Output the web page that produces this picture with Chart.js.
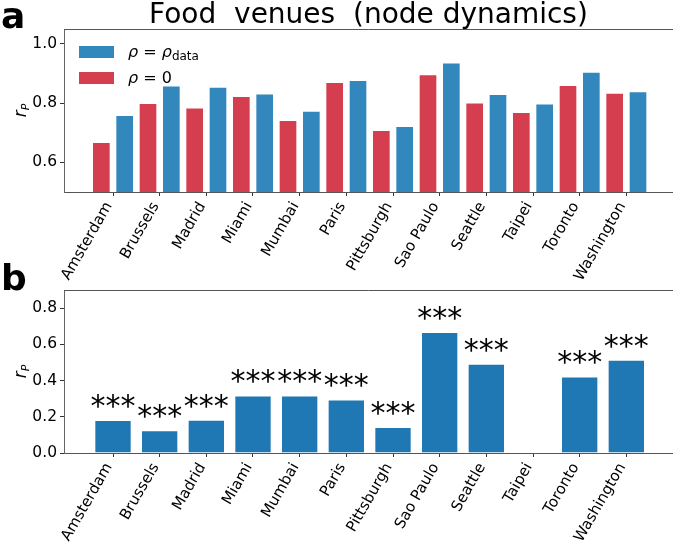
<!DOCTYPE html>
<html>
<head>
<meta charset="utf-8">
<script src="https://cdn.jsdelivr.net/npm/chart.js@4.4.1/dist/chart.umd.min.js"></script>
<style>
  html, body { margin: 0; padding: 0; background: #fff; }
  #wrap { position: relative; width: 673px; height: 544px; overflow: hidden; background: #fff; }
  canvas { position: absolute; left: 0; }
  #chartA { top: 0; }
  #chartB { top: 250px; }
</style>
</head>
<body>
<div id="wrap">
  <canvas id="chartA" width="673" height="300"></canvas>
  <canvas id="chartB" width="673" height="294"></canvas>
</div>
<script>
// Cities on the x axis
const categories = ['Amsterdam', 'Brussels', 'Madrid', 'Miami', 'Mumbai', 'Paris',
  'Pittsburgh', 'Sao Paulo', 'Seattle', 'Taipei', 'Toronto', 'Washington'];

// Panel a: Pearson correlation with the measured rho and with rho = 0
const rhoDataValues = [0.760, 0.859, 0.855, 0.832, 0.774, 0.878, 0.723, 0.937, 0.831, 0.799, 0.906, 0.840];
const rhoZeroValues = [0.669, 0.800, 0.785, 0.824, 0.743, 0.871, 0.709, 0.897, 0.802, 0.770, 0.861, 0.835];

// Panel b: correlation of the improvement, with significance marks
const improvementValues = [0.182, 0.125, 0.184, 0.318, 0.318, 0.296, 0.143, 0.668, 0.493, null, 0.423, 0.515];
const significance = ['***', '***', '***', '***', '***', '***', '***', '***', '***', '', '***', '***'];

// Tick values
const ticksA = [0.6, 0.8, 1.0];
const ticksB = [0.0, 0.2, 0.4, 0.6, 0.8];

const FAMILY = "'DejaVu Sans', sans-serif";
Chart.defaults.font.family = FAMILY;
Chart.defaults.color = '#000';

function drawRuns(ctx, x, y, runs, align) {
  let total = 0;
  runs.forEach(r => { ctx.font = r.font; r.w = ctx.measureText(r.t).width; total += r.w; });
  let cx = align === 'center' ? x - total / 2 : x;
  ctx.textAlign = 'left';
  runs.forEach(r => { ctx.font = r.font; ctx.fillText(r.t, cx, y + (r.dy || 0)); cx += r.w; });
}

function makeXScale(height) {
  return {
    type: 'linear',
    offset: false,
    min: -1.05,
    max: 12,
    afterBuildTicks: s => { s.ticks = categories.map((_, i) => ({ value: i })); },
    afterFit: s => { s.height = height; },
    ticks: {
      autoSkip: false,
      minRotation: 60,
      maxRotation: 60,
      padding: 3,
      labelOffset: -4,
      color: '#000',
      font: { size: 15 },
      callback: v => categories[v]
    },
    grid: { drawOnChartArea: false, offset: false, color: '#333', tickLength: 4 },
    border: { color: '#555', width: 1 }
  };
}

function makeYScale(min, max, ticks) {
  return {
    type: 'linear',
    min: min,
    max: max,
    afterBuildTicks: s => { s.ticks = ticks.map(v => ({ value: v })); },
    afterFit: s => { s.width = 64; },
    ticks: {
      padding: 3,
      color: '#000',
      font: { size: 15.5 },
      callback: v => v.toFixed(1)
    },
    grid: { drawOnChartArea: false, color: '#333', tickLength: 4 },
    border: { color: '#666', width: 1 }
  };
}

// Top spine, panel letter and rotated r_P axis label
function frameDecor(letter, letterBaseline) {
  return {
    id: 'frameDecor' + letter,
    afterDraw(chart) {
      const { ctx, chartArea } = chart;
      ctx.save();
      ctx.strokeStyle = '#555';
      ctx.lineWidth = 1;
      ctx.beginPath();
      ctx.moveTo(chartArea.left, chartArea.top + 0.5);
      ctx.lineTo(chartArea.right, chartArea.top + 0.5);
      ctx.stroke();

      ctx.fillStyle = '#000';
      ctx.textBaseline = 'alphabetic';
      ctx.font = 'bold 36px ' + FAMILY;
      ctx.textAlign = 'left';
      ctx.fillText(letter, 1, letterBaseline);

      const cy = (chartArea.top + chartArea.bottom) / 2;
      ctx.translate(26, cy);
      ctx.rotate(-Math.PI / 2);
      drawRuns(ctx, 0, 0, [
        { t: 'r', font: 'italic 17px ' + FAMILY },
        { t: 'P', font: 'italic 11px ' + FAMILY, dy: 3 }
      ], 'center');
      ctx.restore();
    }
  };
}

const titleAndLegend = {
  id: 'titleAndLegend',
  afterDraw(chart) {
    const { ctx, chartArea } = chart;
    ctx.save();
    ctx.fillStyle = '#000';
    ctx.textBaseline = 'alphabetic';
    ctx.textAlign = 'center';
    ctx.font = '28px ' + FAMILY;
    ctx.fillText('Food  venues  (node dynamics)', (chartArea.left + chartArea.right) / 2, 23);

    const dsBlue = chart.data.datasets[1];
    const dsRed = chart.data.datasets[0];
    const bx = chartArea.left + 15;
    ctx.fillStyle = dsBlue.backgroundColor;
    ctx.fillRect(bx, 46, 35, 12);
    ctx.fillStyle = dsRed.backgroundColor;
    ctx.fillRect(bx, 72, 35, 12);

    ctx.fillStyle = '#000';
    const tx = bx + 49;
    drawRuns(ctx, tx, 57, [
      { t: 'ρ', font: 'italic 16px ' + FAMILY },
      { t: ' = ', font: '16px ' + FAMILY },
      { t: 'ρ', font: 'italic 16px ' + FAMILY },
      { t: 'data', font: '12px ' + FAMILY, dy: 3 }
    ]);
    drawRuns(ctx, tx, 83, [
      { t: 'ρ', font: 'italic 16px ' + FAMILY },
      { t: ' = ', font: '16px ' + FAMILY },
      { t: '0', font: '16px ' + FAMILY }
    ]);
    ctx.restore();
  }
};

const starMarks = {
  id: 'starMarks',
  afterDatasetsDraw(chart) {
    const { ctx } = chart;
    const meta = chart.getDatasetMeta(0);
    ctx.save();
    ctx.fillStyle = '#000';
    ctx.textAlign = 'center';
    ctx.textBaseline = 'alphabetic';
    ctx.font = '30px ' + FAMILY;
    meta.data.forEach((bar, i) => {
      if (improvementValues[i] == null || !significance[i]) return;
      ctx.fillText(significance[i], bar.x, bar.y - 4);
    });
    ctx.restore();
  }
};

const toPoints = arr => arr.map((v, i) => ({ x: i, y: v }));

new Chart(document.getElementById('chartA'), {
  type: 'bar',
  data: {
    datasets: [
      {
        label: 'ρ = 0',
        data: toPoints(rhoZeroValues),
        backgroundColor: '#d53e4f',
        borderColor: 'rgba(255,255,255,0.55)',
        borderWidth: 1,
        categoryPercentage: 1.0,
        barPercentage: 0.8
      },
      {
        label: 'ρ = ρdata',
        data: toPoints(rhoDataValues),
        backgroundColor: '#3288bd',
        borderColor: 'rgba(255,255,255,0.55)',
        borderWidth: 1,
        categoryPercentage: 1.0,
        barPercentage: 0.8
      }
    ]
  },
  options: {
    responsive: false,
    animation: false,
    devicePixelRatio: 1,
    layout: { padding: { top: 29, left: 0, right: 0, bottom: 0 } },
    plugins: { legend: { display: false }, tooltip: { enabled: false }, title: { display: false } },
    scales: {
      x: makeXScale(108),
      y: makeYScale(0.5, 1.05, ticksA)
    }
  },
  plugins: [frameDecor('a', 28), titleAndLegend]
});

new Chart(document.getElementById('chartB'), {
  type: 'bar',
  data: {
    datasets: [
      {
        label: 'r_P',
        data: toPoints(improvementValues),
        backgroundColor: '#1f77b4',
        borderColor: 'rgba(255,255,255,0.55)',
        borderWidth: 1,
        categoryPercentage: 1.0,
        barPercentage: 0.8
      }
    ]
  },
  options: {
    responsive: false,
    animation: false,
    devicePixelRatio: 1,
    layout: { padding: { top: 40, left: 0, right: 0, bottom: 0 } },
    plugins: { legend: { display: false }, tooltip: { enabled: false }, title: { display: false } },
    scales: {
      x: makeXScale(91),
      y: makeYScale(0, 0.9, ticksB)
    }
  },
  plugins: [frameDecor('b', 40), starMarks]
});
</script>
</body>
</html>
